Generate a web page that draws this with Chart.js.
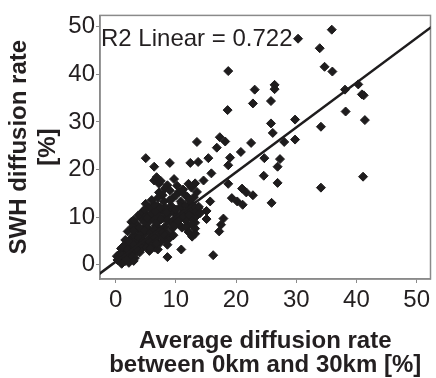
<!DOCTYPE html>
<html>
<head>
<meta charset="utf-8">
<script src="https://cdn.jsdelivr.net/npm/chart.js@4.4.1/dist/chart.umd.min.js"></script>
<style>
  html, body { margin: 0; padding: 0; background: #fff; }
</style>
</head>
<body>
<canvas id="scatterChart" width="436" height="378"></canvas>
<script>
// Average diffusion rate between 0km and 30km [%] (x) vs SWH diffusion rate [%] (y)
const avgRate = [
  30.3, 35.9, 33.9, 34.7, 36.0, 18.7, 23.1, 22.8, 26.4, 26.4, 25.8, 18.6,
  38.1, 40.3, 40.9, 41.2, 38.2, 41.4, 25.8, 26.1, 29.8, 34.1, 13.5, 17.3,
  18.2, 22.5, 28.0, 29.8, 34.1, 41.1, 16.8, 20.8, 19.0, 18.7, 15.4, 12.4,
  13.7, 9.0, 5.0, 6.4, 24.7, 27.3, 26.9, 24.6, 26.9, 25.9,
  21.0, 21.7, 22.8, 19.3, 20.2, 21.1,
  18.7, 15.9, 14.6, 13.2, 12.1, 9.7, 8.6, 6.4, 7.2, 10.5, 11.9, 13.5,
  7.8, 8.0, 5.0, 10.8, 15.7, 15.1, 13.8, 12.4, 17.9, 17.5, 17.2, 15.1,
  13.2, 12.7, 10.9, 16.2, 8.6, 4.5, 2.8, 1.8,
  10.5, 12.1, 13.2, 8.9,
  6.8, 7.5, 8.2, 9.0, 7.2, 9.5, 10.2, 11.2, 12.6, 11.0, 12.0, 9.2, 6.2, 7.0, 4.6,
  0.3, 0.8, 1.2, 1.6, 2.0, 2.4, 0.6, 1.4, 2.8, 3.2, 1.0, 2.2, 3.6, 0.2,
  0.9, 1.5, 2.5, 3.0, 3.8, 4.4, 5.2, 2.2, 6.0, 4.0, 5.6, 6.5,
  1.6, 2.6, 3.4, 4.2, 5.0, 5.8, 6.6, 7.4, 8.2, 9.0, 3.0, 4.8, 7.0, 8.6,
  2.0, 3.6, 4.4, 5.4, 6.2, 7.0, 7.8, 8.6, 5.0, 6.6, 8.2, 11.0, 12.0, 10.4, 13.2,
  2.6, 3.4, 4.2, 5.6, 6.2, 7.2, 8.0, 9.0, 9.8, 10.8, 11.6, 12.6, 13.4, 3.8,
  4.4, 5.2, 6.0, 7.0, 7.8, 8.8, 9.6, 10.2, 11.2, 12.2, 13.2, 9.0, 10.8, 8.2, 5.6, 13.8,
  0.5, 1.8, 2.6, 1.1, 3.0, 2.0,
  1.2, 2.0, 3.4, 4.8, 5.8, 3.0, 7.0, 4.2,
  2.2, 3.8, 4.6, 5.4, 6.2, 7.8, 6.8, 9.6, 8.0,
  2.8, 3.0, 4.0, 4.8, 5.8, 6.4, 7.4, 9.4, 9.8, 11.6, 12.6,
  3.0, 4.8, 5.2, 6.8, 7.6, 8.6, 10.4, 11.2, 12.2, 14.0,
  4.8, 6.6, 7.4, 8.4, 10.0, 11.6, 12.8, 6.4,
  6.0, 7.0, 9.0, 10.0, 12.2, 13.0, 11.4
];
const swhRate = [
  47.5, 49.4, 45.5, 41.6, 40.6, 40.7, 36.8, 33.9, 37.8, 36.9, 34.4, 32.5,
  36.8, 37.9, 35.8, 35.6, 32.2, 30.4, 29.7, 27.7, 30.5, 29.0, 25.8, 26.8,
  25.9, 25.6, 25.8, 26.3, 16.2, 18.5, 24.6, 23.7, 22.5, 20.9, 22.4, 21.4,
  21.6, 21.4, 22.4, 20.6, 22.4, 22.2, 20.6, 18.7, 17.2, 13.0,
  16.0, 15.2, 14.6, 14.0, 13.3, 12.6,
  17.0, 19.2, 17.7, 17.1, 17.0, 18.0, 16.7, 17.7, 17.0, 15.3, 14.3, 15.3,
  14.6, 13.3, 12.8, 13.3, 13.3, 11.3, 11.9, 10.9, 9.7, 8.4, 7.0, 9.6,
  7.6, 5.9, 3.2, 2.0, 1.6, 9.5, 7.6, 4.2,
  9.6, 6.9, 6.5, 5.5,
  18.4, 17.6, 16.0, 15.6, 15.2, 14.0, 16.6, 15.8, 16.2, 12.8, 12.2, 12.4, 11.6, 12.3, 11.2,
  1.0, 0.6, 1.5, 0.8, 1.8, 1.2, 2.2, 2.6, 2.2, 1.4, 0.2, 0.4, 2.8, 1.8,
  3.4, 3.0, 3.6, 3.2, 3.9, 3.4, 3.8, 4.4, 4.2, 2.6, 2.9, 3.6,
  5.2, 5.6, 4.8, 5.4, 4.6, 5.6, 5.0, 4.6, 5.4, 5.8, 6.2, 6.4, 6.0, 4.2,
  7.0, 7.4, 6.8, 7.6, 6.8, 7.8, 7.0, 6.6, 8.0, 8.2, 8.0, 7.8, 8.2, 8.6, 8.8,
  9.0, 8.6, 9.8, 9.2, 9.8, 9.2, 9.8, 9.0, 9.6, 9.8, 9.4, 9.8, 10.2, 10.4,
  11.0, 10.4, 10.8, 10.6, 11.4, 10.6, 11.2, 10.4, 11.0, 11.6, 11.2, 11.8, 12.2, 12.0, 12.0, 12.2,
  1.4, 1.2, 2.0, 2.0, 0.8, 2.6,
  3.8, 3.2, 3.4, 4.0, 3.4, 4.2, 3.2, 4.4,
  5.0, 5.8, 5.0, 5.2, 6.0, 5.8, 4.4, 6.2, 6.4,
  8.0, 7.2, 7.8, 7.2, 6.8, 7.4, 7.2, 7.6, 8.2, 8.0, 8.6,
  9.4, 9.0, 9.8, 8.8, 9.6, 9.4, 9.2, 10.2, 10.4, 10.8,
  11.6, 11.2, 12.0, 11.0, 11.6, 12.4, 12.6, 12.6,
  13.6, 14.0, 13.6, 14.6, 13.6, 14.2, 14.8
];

// linear fit line (endpoints)
const fitX = [-3, 53];
const fitY = [-2.2, 50.5];
const fitLabel = 'R2 Linear = 0.722';

const xTicks = [0, 10, 20, 30, 40, 50];
const yTicks = [0, 10, 20, 30, 40, 50];

const ink = '#1e1c1d';
const textColor = '#231f20';
const axisGray = '#8a8a8a';
const fontFamily = "'Liberation Sans', Arial, sans-serif";

const points = avgRate.map((x, i) => ({ x: x, y: swhRate[i] }));
const fitLine = fitX.map((x, i) => ({ x: x, y: fitY[i] }));

// desenha a moldura e o texto do R2
const framePlugin = {
  id: 'frame',
  beforeDatasetsDraw(chart) {
    const { ctx, chartArea: a } = chart;
    ctx.save();
    ctx.strokeStyle = axisGray;
    ctx.lineWidth = 1.5;
    ctx.strokeRect(a.left, a.top, a.right - a.left, a.bottom - a.top);
    ctx.restore();
  },
  afterDraw(chart) {
    const { ctx, chartArea: a } = chart;
    ctx.save();
    ctx.fillStyle = textColor;
    ctx.font = '24px ' + fontFamily;
    ctx.textBaseline = 'alphabetic';
    ctx.fillText(fitLabel, a.left + 1, a.top + 31);
    ctx.restore();
  }
};

const ctx = document.getElementById('scatterChart').getContext('2d');
new Chart(ctx, {
  type: 'scatter',
  data: {
    datasets: [
      {
        type: 'line',
        data: fitLine,
        borderColor: ink,
        borderWidth: 2.5,
        pointRadius: 0,
        fill: false,
        order: 0
      },
      {
        data: points,
        pointStyle: 'rectRot',
        pointRadius: 4.5,
        backgroundColor: ink,
        borderColor: ink,
        borderWidth: 1,
        order: 1
      }
    ]
  },
  options: {
    responsive: false,
    animation: false,
    layout: { padding: { left: 0, right: 1, top: 5, bottom: 0 } },
    plugins: {
      legend: { display: false },
      tooltip: { enabled: false }
    },
    scales: {
      x: {
        type: 'linear',
        min: -2.6,
        max: 52.3,
        afterBuildTicks: s => { s.ticks = xTicks.map(v => ({ value: v })); },
        afterFit: s => { s.height = 99; },
        ticks: {
          color: textColor,
          font: { family: fontFamily, size: 24 },
          padding: 3,
          maxRotation: 0
        },
        grid: { drawOnChartArea: false, drawTicks: true, tickLength: 4, color: axisGray },
        border: { display: true, color: axisGray, width: 1.5 },
        title: {
          display: true,
          text: ['Average diffusion rate', 'between 0km and 30km [%]'],
          color: textColor,
          font: { family: fontFamily, size: 24, weight: 'bold', lineHeight: 1.0 },
          padding: { top: 0, bottom: 1 }
        }
      },
      y: {
        type: 'linear',
        min: -3,
        max: 52.4,
        afterBuildTicks: s => { s.ticks = yTicks.map(v => ({ value: v })); },
        afterFit: s => { s.width = 100; },
        ticks: {
          color: textColor,
          font: { family: fontFamily, size: 24 },
          padding: 1
        },
        grid: { drawOnChartArea: false, drawTicks: true, tickLength: 4, color: axisGray },
        border: { display: true, color: axisGray, width: 1.5 },
        title: {
          display: true,
          text: ['SWH diffusion rate', '[%]'],
          color: textColor,
          font: { family: fontFamily, size: 24, weight: 'bold', lineHeight: 1.2 },
          padding: { top: 5, bottom: 0 }
        }
      }
    }
  },
  plugins: [framePlugin]
});
</script>
</body>
</html>
